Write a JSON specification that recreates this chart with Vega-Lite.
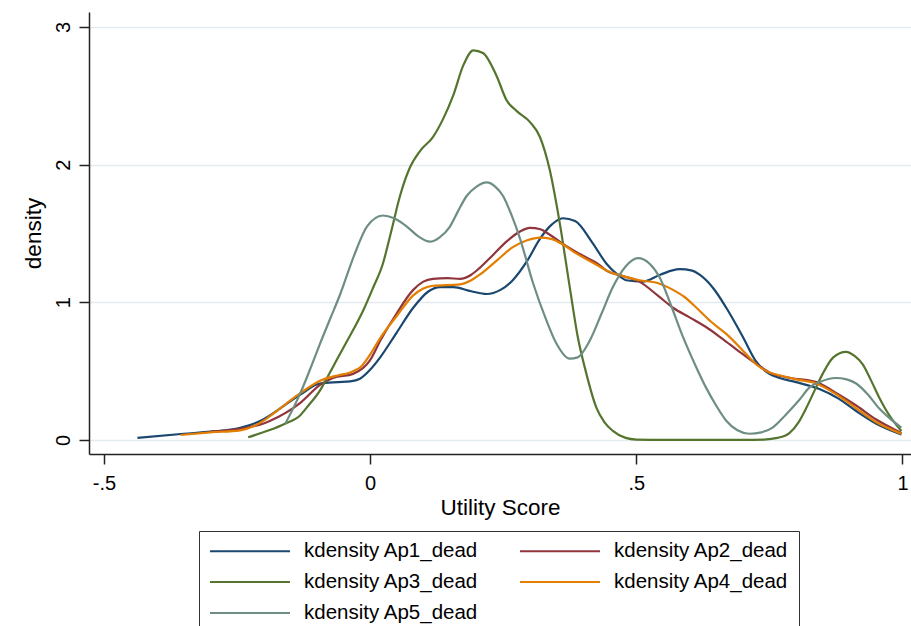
{
  "$schema": "https://vega.github.io/schema/vega-lite/v6.json",
  "width": 822,
  "height": 442,
  "autosize": {"type": "none"},
  "padding": {"left": 89, "top": 12, "right": 0, "bottom": 172},
  "background": "white",
  "config": {
    "view": {"stroke": null},
    "font": "Liberation Sans",
    "axis": {"domainColor": "#222", "domainWidth": 1.5, "tickColor": "#222", "tickWidth": 1.5, "labelColor": "#000", "titleColor": "#000", "titleFontWeight": "normal", "labelFont": "Liberation Sans", "titleFont": "Liberation Sans"}
  },
  "data": {"values": [
    {"s":"kdensity Ap1_dead","x":-0.437,"y":0.015},{"s":"kdensity Ap1_dead","x":-0.35,"y":0.045},{"s":"kdensity Ap1_dead","x":-0.3,"y":0.06},{"s":"kdensity Ap1_dead","x":-0.244,"y":0.088},{"s":"kdensity Ap1_dead","x":-0.2,"y":0.15},{"s":"kdensity Ap1_dead","x":-0.1875,"y":0.18},{"s":"kdensity Ap1_dead","x":-0.131,"y":0.33},{"s":"kdensity Ap1_dead","x":-0.094,"y":0.41},{"s":"kdensity Ap1_dead","x":-0.06,"y":0.42},{"s":"kdensity Ap1_dead","x":-0.0375,"y":0.425},{"s":"kdensity Ap1_dead","x":-0.019,"y":0.445},{"s":"kdensity Ap1_dead","x":0,"y":0.51},{"s":"kdensity Ap1_dead","x":0.019,"y":0.6},{"s":"kdensity Ap1_dead","x":0.05,"y":0.78},{"s":"kdensity Ap1_dead","x":0.081,"y":0.96},{"s":"kdensity Ap1_dead","x":0.11,"y":1.08},{"s":"kdensity Ap1_dead","x":0.131,"y":1.11},{"s":"kdensity Ap1_dead","x":0.156,"y":1.11},{"s":"kdensity Ap1_dead","x":0.19,"y":1.08},{"s":"kdensity Ap1_dead","x":0.219,"y":1.06},{"s":"kdensity Ap1_dead","x":0.245,"y":1.09},{"s":"kdensity Ap1_dead","x":0.268,"y":1.16},{"s":"kdensity Ap1_dead","x":0.295,"y":1.3},{"s":"kdensity Ap1_dead","x":0.319,"y":1.46},{"s":"kdensity Ap1_dead","x":0.34,"y":1.56},{"s":"kdensity Ap1_dead","x":0.362,"y":1.61},{"s":"kdensity Ap1_dead","x":0.385,"y":1.59},{"s":"kdensity Ap1_dead","x":0.418,"y":1.43},{"s":"kdensity Ap1_dead","x":0.444,"y":1.28},{"s":"kdensity Ap1_dead","x":0.465,"y":1.2},{"s":"kdensity Ap1_dead","x":0.481,"y":1.16},{"s":"kdensity Ap1_dead","x":0.512,"y":1.15},{"s":"kdensity Ap1_dead","x":0.545,"y":1.2},{"s":"kdensity Ap1_dead","x":0.581,"y":1.24},{"s":"kdensity Ap1_dead","x":0.605,"y":1.23},{"s":"kdensity Ap1_dead","x":0.619,"y":1.2},{"s":"kdensity Ap1_dead","x":0.645,"y":1.1},{"s":"kdensity Ap1_dead","x":0.669,"y":0.96},{"s":"kdensity Ap1_dead","x":0.7,"y":0.75},{"s":"kdensity Ap1_dead","x":0.725,"y":0.57},{"s":"kdensity Ap1_dead","x":0.75,"y":0.48},{"s":"kdensity Ap1_dead","x":0.769,"y":0.45},{"s":"kdensity Ap1_dead","x":0.8,"y":0.42},{"s":"kdensity Ap1_dead","x":0.844,"y":0.37},{"s":"kdensity Ap1_dead","x":0.88,"y":0.3},{"s":"kdensity Ap1_dead","x":0.913,"y":0.21},{"s":"kdensity Ap1_dead","x":0.95,"y":0.12},{"s":"kdensity Ap1_dead","x":0.998,"y":0.04},

    {"s":"kdensity Ap2_dead","x":-0.3,"y":0.06},{"s":"kdensity Ap2_dead","x":-0.244,"y":0.08},{"s":"kdensity Ap2_dead","x":-0.2,"y":0.12},{"s":"kdensity Ap2_dead","x":-0.1875,"y":0.14},{"s":"kdensity Ap2_dead","x":-0.131,"y":0.27},{"s":"kdensity Ap2_dead","x":-0.094,"y":0.4},{"s":"kdensity Ap2_dead","x":-0.07,"y":0.45},{"s":"kdensity Ap2_dead","x":-0.032,"y":0.48},{"s":"kdensity Ap2_dead","x":0,"y":0.58},{"s":"kdensity Ap2_dead","x":0.019,"y":0.72},{"s":"kdensity Ap2_dead","x":0.05,"y":0.92},{"s":"kdensity Ap2_dead","x":0.081,"y":1.09},{"s":"kdensity Ap2_dead","x":0.1,"y":1.15},{"s":"kdensity Ap2_dead","x":0.118,"y":1.17},{"s":"kdensity Ap2_dead","x":0.145,"y":1.175},{"s":"kdensity Ap2_dead","x":0.169,"y":1.17},{"s":"kdensity Ap2_dead","x":0.19,"y":1.2},{"s":"kdensity Ap2_dead","x":0.206,"y":1.25},{"s":"kdensity Ap2_dead","x":0.23,"y":1.34},{"s":"kdensity Ap2_dead","x":0.256,"y":1.44},{"s":"kdensity Ap2_dead","x":0.28,"y":1.51},{"s":"kdensity Ap2_dead","x":0.3,"y":1.54},{"s":"kdensity Ap2_dead","x":0.32,"y":1.53},{"s":"kdensity Ap2_dead","x":0.3375,"y":1.49},{"s":"kdensity Ap2_dead","x":0.36,"y":1.43},{"s":"kdensity Ap2_dead","x":0.394,"y":1.35},{"s":"kdensity Ap2_dead","x":0.431,"y":1.27},{"s":"kdensity Ap2_dead","x":0.444,"y":1.23},{"s":"kdensity Ap2_dead","x":0.475,"y":1.19},{"s":"kdensity Ap2_dead","x":0.506,"y":1.15},{"s":"kdensity Ap2_dead","x":0.54,"y":1.05},{"s":"kdensity Ap2_dead","x":0.569,"y":0.96},{"s":"kdensity Ap2_dead","x":0.6,"y":0.89},{"s":"kdensity Ap2_dead","x":0.631,"y":0.82},{"s":"kdensity Ap2_dead","x":0.66,"y":0.74},{"s":"kdensity Ap2_dead","x":0.694,"y":0.64},{"s":"kdensity Ap2_dead","x":0.73,"y":0.54},{"s":"kdensity Ap2_dead","x":0.756,"y":0.48},{"s":"kdensity Ap2_dead","x":0.79,"y":0.45},{"s":"kdensity Ap2_dead","x":0.838,"y":0.42},{"s":"kdensity Ap2_dead","x":0.88,"y":0.33},{"s":"kdensity Ap2_dead","x":0.913,"y":0.25},{"s":"kdensity Ap2_dead","x":0.95,"y":0.15},{"s":"kdensity Ap2_dead","x":0.998,"y":0.05},

    {"s":"kdensity Ap3_dead","x":-0.229,"y":0.02},{"s":"kdensity Ap3_dead","x":-0.19,"y":0.07},{"s":"kdensity Ap3_dead","x":-0.159,"y":0.12},{"s":"kdensity Ap3_dead","x":-0.131,"y":0.18},{"s":"kdensity Ap3_dead","x":-0.118,"y":0.24},{"s":"kdensity Ap3_dead","x":-0.094,"y":0.36},{"s":"kdensity Ap3_dead","x":-0.081,"y":0.45},{"s":"kdensity Ap3_dead","x":-0.06,"y":0.6},{"s":"kdensity Ap3_dead","x":-0.043,"y":0.72},{"s":"kdensity Ap3_dead","x":-0.013,"y":0.94},{"s":"kdensity Ap3_dead","x":0.005,"y":1.1},{"s":"kdensity Ap3_dead","x":0.024,"y":1.28},{"s":"kdensity Ap3_dead","x":0.04,"y":1.52},{"s":"kdensity Ap3_dead","x":0.056,"y":1.77},{"s":"kdensity Ap3_dead","x":0.075,"y":1.98},{"s":"kdensity Ap3_dead","x":0.094,"y":2.1},{"s":"kdensity Ap3_dead","x":0.118,"y":2.2},{"s":"kdensity Ap3_dead","x":0.137,"y":2.33},{"s":"kdensity Ap3_dead","x":0.156,"y":2.5},{"s":"kdensity Ap3_dead","x":0.175,"y":2.72},{"s":"kdensity Ap3_dead","x":0.194,"y":2.83},{"s":"kdensity Ap3_dead","x":0.212,"y":2.81},{"s":"kdensity Ap3_dead","x":0.238,"y":2.64},{"s":"kdensity Ap3_dead","x":0.256,"y":2.47},{"s":"kdensity Ap3_dead","x":0.275,"y":2.39},{"s":"kdensity Ap3_dead","x":0.3,"y":2.31},{"s":"kdensity Ap3_dead","x":0.319,"y":2.2},{"s":"kdensity Ap3_dead","x":0.3375,"y":1.96},{"s":"kdensity Ap3_dead","x":0.356,"y":1.58},{"s":"kdensity Ap3_dead","x":0.375,"y":1.11},{"s":"kdensity Ap3_dead","x":0.39,"y":0.75},{"s":"kdensity Ap3_dead","x":0.405,"y":0.5},{"s":"kdensity Ap3_dead","x":0.425,"y":0.235},{"s":"kdensity Ap3_dead","x":0.44,"y":0.13},{"s":"kdensity Ap3_dead","x":0.456,"y":0.066},{"s":"kdensity Ap3_dead","x":0.48,"y":0.015},{"s":"kdensity Ap3_dead","x":0.5,"y":0.003},{"s":"kdensity Ap3_dead","x":0.55,"y":0},{"s":"kdensity Ap3_dead","x":0.6,"y":0},{"s":"kdensity Ap3_dead","x":0.7,"y":0},{"s":"kdensity Ap3_dead","x":0.74,"y":0.003},{"s":"kdensity Ap3_dead","x":0.765,"y":0.015},{"s":"kdensity Ap3_dead","x":0.7875,"y":0.05},{"s":"kdensity Ap3_dead","x":0.805,"y":0.13},{"s":"kdensity Ap3_dead","x":0.819,"y":0.23},{"s":"kdensity Ap3_dead","x":0.835,"y":0.36},{"s":"kdensity Ap3_dead","x":0.85,"y":0.48},{"s":"kdensity Ap3_dead","x":0.87,"y":0.6},{"s":"kdensity Ap3_dead","x":0.894,"y":0.64},{"s":"kdensity Ap3_dead","x":0.91,"y":0.61},{"s":"kdensity Ap3_dead","x":0.925,"y":0.55},{"s":"kdensity Ap3_dead","x":0.94,"y":0.44},{"s":"kdensity Ap3_dead","x":0.956,"y":0.31},{"s":"kdensity Ap3_dead","x":0.975,"y":0.18},{"s":"kdensity Ap3_dead","x":0.998,"y":0.065},

    {"s":"kdensity Ap4_dead","x":-0.356,"y":0.036},{"s":"kdensity Ap4_dead","x":-0.3,"y":0.055},{"s":"kdensity Ap4_dead","x":-0.244,"y":0.07},{"s":"kdensity Ap4_dead","x":-0.2,"y":0.14},{"s":"kdensity Ap4_dead","x":-0.1875,"y":0.175},{"s":"kdensity Ap4_dead","x":-0.131,"y":0.34},{"s":"kdensity Ap4_dead","x":-0.094,"y":0.43},{"s":"kdensity Ap4_dead","x":-0.06,"y":0.47},{"s":"kdensity Ap4_dead","x":-0.0375,"y":0.49},{"s":"kdensity Ap4_dead","x":-0.015,"y":0.54},{"s":"kdensity Ap4_dead","x":0,"y":0.62},{"s":"kdensity Ap4_dead","x":0.019,"y":0.74},{"s":"kdensity Ap4_dead","x":0.05,"y":0.9},{"s":"kdensity Ap4_dead","x":0.081,"y":1.05},{"s":"kdensity Ap4_dead","x":0.1,"y":1.1},{"s":"kdensity Ap4_dead","x":0.118,"y":1.12},{"s":"kdensity Ap4_dead","x":0.169,"y":1.13},{"s":"kdensity Ap4_dead","x":0.19,"y":1.16},{"s":"kdensity Ap4_dead","x":0.206,"y":1.2},{"s":"kdensity Ap4_dead","x":0.24,"y":1.31},{"s":"kdensity Ap4_dead","x":0.268,"y":1.4},{"s":"kdensity Ap4_dead","x":0.295,"y":1.45},{"s":"kdensity Ap4_dead","x":0.319,"y":1.47},{"s":"kdensity Ap4_dead","x":0.34,"y":1.46},{"s":"kdensity Ap4_dead","x":0.362,"y":1.42},{"s":"kdensity Ap4_dead","x":0.381,"y":1.37},{"s":"kdensity Ap4_dead","x":0.431,"y":1.26},{"s":"kdensity Ap4_dead","x":0.444,"y":1.23},{"s":"kdensity Ap4_dead","x":0.475,"y":1.19},{"s":"kdensity Ap4_dead","x":0.506,"y":1.16},{"s":"kdensity Ap4_dead","x":0.54,"y":1.14},{"s":"kdensity Ap4_dead","x":0.569,"y":1.09},{"s":"kdensity Ap4_dead","x":0.59,"y":1.04},{"s":"kdensity Ap4_dead","x":0.613,"y":0.96},{"s":"kdensity Ap4_dead","x":0.64,"y":0.86},{"s":"kdensity Ap4_dead","x":0.669,"y":0.77},{"s":"kdensity Ap4_dead","x":0.7,"y":0.65},{"s":"kdensity Ap4_dead","x":0.725,"y":0.55},{"s":"kdensity Ap4_dead","x":0.75,"y":0.49},{"s":"kdensity Ap4_dead","x":0.769,"y":0.47},{"s":"kdensity Ap4_dead","x":0.8,"y":0.44},{"s":"kdensity Ap4_dead","x":0.838,"y":0.41},{"s":"kdensity Ap4_dead","x":0.88,"y":0.32},{"s":"kdensity Ap4_dead","x":0.913,"y":0.23},{"s":"kdensity Ap4_dead","x":0.95,"y":0.13},{"s":"kdensity Ap4_dead","x":0.998,"y":0.045},

    {"s":"kdensity Ap5_dead","x":-0.159,"y":0.12},{"s":"kdensity Ap5_dead","x":-0.131,"y":0.34},{"s":"kdensity Ap5_dead","x":-0.11,"y":0.54},{"s":"kdensity Ap5_dead","x":-0.094,"y":0.7},{"s":"kdensity Ap5_dead","x":-0.075,"y":0.88},{"s":"kdensity Ap5_dead","x":-0.056,"y":1.06},{"s":"kdensity Ap5_dead","x":-0.031,"y":1.33},{"s":"kdensity Ap5_dead","x":-0.006,"y":1.55},{"s":"kdensity Ap5_dead","x":0.024,"y":1.63},{"s":"kdensity Ap5_dead","x":0.045,"y":1.61},{"s":"kdensity Ap5_dead","x":0.069,"y":1.55},{"s":"kdensity Ap5_dead","x":0.09,"y":1.48},{"s":"kdensity Ap5_dead","x":0.1125,"y":1.44},{"s":"kdensity Ap5_dead","x":0.13,"y":1.47},{"s":"kdensity Ap5_dead","x":0.15,"y":1.55},{"s":"kdensity Ap5_dead","x":0.165,"y":1.66},{"s":"kdensity Ap5_dead","x":0.181,"y":1.77},{"s":"kdensity Ap5_dead","x":0.2,"y":1.84},{"s":"kdensity Ap5_dead","x":0.219,"y":1.87},{"s":"kdensity Ap5_dead","x":0.235,"y":1.84},{"s":"kdensity Ap5_dead","x":0.25,"y":1.77},{"s":"kdensity Ap5_dead","x":0.265,"y":1.64},{"s":"kdensity Ap5_dead","x":0.281,"y":1.47},{"s":"kdensity Ap5_dead","x":0.306,"y":1.14},{"s":"kdensity Ap5_dead","x":0.331,"y":0.87},{"s":"kdensity Ap5_dead","x":0.35,"y":0.7},{"s":"kdensity Ap5_dead","x":0.375,"y":0.59},{"s":"kdensity Ap5_dead","x":0.39,"y":0.6},{"s":"kdensity Ap5_dead","x":0.4125,"y":0.72},{"s":"kdensity Ap5_dead","x":0.435,"y":0.92},{"s":"kdensity Ap5_dead","x":0.456,"y":1.11},{"s":"kdensity Ap5_dead","x":0.48,"y":1.26},{"s":"kdensity Ap5_dead","x":0.503,"y":1.32},{"s":"kdensity Ap5_dead","x":0.525,"y":1.28},{"s":"kdensity Ap5_dead","x":0.544,"y":1.18},{"s":"kdensity Ap5_dead","x":0.565,"y":0.98},{"s":"kdensity Ap5_dead","x":0.5875,"y":0.75},{"s":"kdensity Ap5_dead","x":0.61,"y":0.55},{"s":"kdensity Ap5_dead","x":0.631,"y":0.38},{"s":"kdensity Ap5_dead","x":0.65,"y":0.25},{"s":"kdensity Ap5_dead","x":0.669,"y":0.14},{"s":"kdensity Ap5_dead","x":0.69,"y":0.07},{"s":"kdensity Ap5_dead","x":0.7125,"y":0.045},{"s":"kdensity Ap5_dead","x":0.735,"y":0.055},{"s":"kdensity Ap5_dead","x":0.756,"y":0.09},{"s":"kdensity Ap5_dead","x":0.78,"y":0.18},{"s":"kdensity Ap5_dead","x":0.806,"y":0.29},{"s":"kdensity Ap5_dead","x":0.825,"y":0.38},{"s":"kdensity Ap5_dead","x":0.844,"y":0.42},{"s":"kdensity Ap5_dead","x":0.875,"y":0.45},{"s":"kdensity Ap5_dead","x":0.895,"y":0.44},{"s":"kdensity Ap5_dead","x":0.913,"y":0.41},{"s":"kdensity Ap5_dead","x":0.935,"y":0.33},{"s":"kdensity Ap5_dead","x":0.956,"y":0.23},{"s":"kdensity Ap5_dead","x":0.975,"y":0.16},{"s":"kdensity Ap5_dead","x":0.998,"y":0.09}
  ]},
  "mark": {"type": "line", "interpolate": "monotone", "strokeWidth": 2.2},
  "encoding": {
    "x": {
      "field": "x", "type": "quantitative",
      "scale": {"domain": [-0.528, 1.016], "nice": false, "zero": false},
      "axis": {"values": [-0.5, 0, 0.5, 1], "labelExpr": "replace(toString(datum.value), '0.', '.')", "grid": false, "tickSize": 10, "labelFontSize": 20, "labelPadding": 9, "title": "Utility Score", "titleFontSize": 22.5, "titlePadding": 3}
    },
    "y": {
      "field": "y", "type": "quantitative",
      "scale": {"domain": [-0.102, 3.108], "nice": false, "zero": false},
      "axis": {"values": [0, 1, 2, 3], "format": "d", "grid": true, "gridColor": "#e4ebee", "gridWidth": 1.5, "tickSize": 10, "labelAngle": -90, "labelAlign": "center", "labelBaseline": "bottom", "labelFontSize": 20, "labelPadding": 6, "title": "density", "titleFontSize": 22.5, "titlePadding": 8}
    },
    "color": {
      "field": "s", "type": "nominal",
      "scale": {"domain": ["kdensity Ap1_dead", "kdensity Ap2_dead", "kdensity Ap3_dead", "kdensity Ap4_dead", "kdensity Ap5_dead"], "range": ["#1a476f", "#90353b", "#55752f", "#e37e00", "#6e8e84"]},
      "legend": {"orient": "none", "legendX": 110, "legendY": 519, "direction": "horizontal", "columns": 2, "title": null, "symbolType": "stroke", "symbolSize": 6400, "symbolStrokeWidth": 2, "clipHeight": 20, "labelFontSize": 20.5, "labelLimit": 0, "labelFont": "Liberation Sans", "labelColor": "#000", "labelOffset": 13, "columnPadding": 40, "rowPadding": 10, "padding": 10, "strokeColor": "#333", "fillColor": "white"}
    }
  }
}
